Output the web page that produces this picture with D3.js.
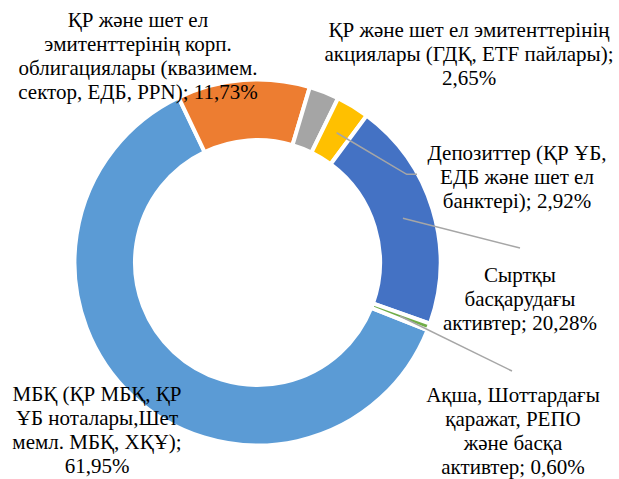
<!DOCTYPE html>
<html>
<head>
<meta charset="utf-8">
<script src="https://cdn.jsdelivr.net/npm/d3@7"></script>
<style>
  body { margin: 0; background: #fff; }
  svg { display: block; }
</style>
</head>
<body>
<svg></svg>
<script>
var width = 619;
var height = 479;

// data, in the order Excel draws it (clockwise)
var categories = [
  "МБҚ (ҚР МБҚ, ҚР ҰБ ноталары,Шет мемл. МБҚ, ХҚҰ)",
  "ҚР және шет ел эмитенттерінің корп. облигациялары (квазимем. сектор, ЕДБ, PPN)",
  "ҚР және шет ел эмитенттерінің акциялары (ГДҚ, ETF пайлары)",
  "Депозиттер (ҚР ҰБ, ЕДБ және шет ел банктері)",
  "Сыртқы басқарудағы активтер",
  "Ақша, Шоттардағы қаражат, РЕПО және басқа активтер"
];
var values = [61.95, 11.73, 2.65, 2.92, 20.28, 0.60];
var colors = ["#5B9BD5", "#ED7D31", "#A5A5A5", "#FFC000", "#4472C4", "#70AD47"];

// how each label wraps, {v} = value
var labelLines = [
  ["МБҚ (ҚР МБҚ, ҚР", "ҰБ ноталары,Шет", "мемл. МБҚ, ХҚҰ);", "{v}"],
  ["ҚР және шет ел", "эмитенттерінің корп.", "облигациялары (квазимем.", "сектор, ЕДБ, PPN); {v}"],
  ["ҚР және шет ел эмитенттерінің", "акциялары (ГДҚ, ETF пайлары);", "{v}"],
  ["Депозиттер (ҚР ҰБ,", "ЕДБ және шет ел", "банктері); {v}"],
  ["Сыртқы", "басқарудағы", "активтер; {v}"],
  ["Ақша, Шоттардағы", "қаражат, РЕПО", "және басқа", "активтер; {v}"]
];

// layout
var cx = 257.5, cy = 262.5;
var outerR = 183, innerR = 122.5;
var startDeg = 111.7;
var lineH = 24;
// label centre x and first baseline, plus leader end points (null = no leader)
var labelPos = [
  { x: 97,  y: 401, leader: null },
  { x: 138, y: 27,  leader: null },
  { x: 469, y: 37,  leader: null },
  { x: 517, y: 160, leader: [[406.7, 174.3], [417, 174.3]] },
  { x: 520, y: 282, leader: [[520, 248]] },
  { x: 513, y: 402, leader: [[512, 371]] }
];

var fmt = d3.format(".2f");
function pct(v) { return fmt(v).replace(".", ",") + "%"; }

var svg = d3.select("svg")
  .attr("width", width)
  .attr("height", height);

var pie = d3.pie()
  .sort(null)
  .value(d => d)
  .startAngle(startDeg * Math.PI / 180)
  .endAngle(startDeg * Math.PI / 180 + 2 * Math.PI);

var arcs = pie(values);

var arc = d3.arc()
  .innerRadius(innerR)
  .outerRadius(outerR);

var g = svg.append("g").attr("transform", "translate(" + cx + "," + cy + ")");

g.selectAll("path")
  .data(arcs)
  .enter()
  .append("path")
    .attr("d", arc)
    .attr("fill", (d, i) => colors[i])
    .attr("stroke", "#fff")
    .attr("stroke-width", 4)
    .attr("stroke-linejoin", "miter");

// leader lines start in the middle of the ring
var midArc = d3.arc().innerRadius(152).outerRadius(152);
var line = d3.line();

svg.selectAll("path.leader")
  .data(arcs.filter((d, i) => labelPos[i].leader))
  .enter()
  .append("path")
    .attr("class", "leader")
    .attr("fill", "none")
    .attr("stroke", "#A6A6A6")
    .attr("stroke-width", 1.5)
    .attr("d", d => {
      var c = midArc.centroid(d);
      var pts = [[c[0] + cx, c[1] + cy]].concat(labelPos[d.index].leader);
      return line(pts);
    });

// one text element per label line
var rows = [];
arcs.forEach(d => {
  labelLines[d.index].forEach((s, j) => {
    rows.push({
      x: labelPos[d.index].x,
      y: labelPos[d.index].y + j * lineH,
      text: s.replace("{v}", pct(d.data))
    });
  });
});

svg.selectAll("text.lbl")
  .data(rows)
  .enter()
  .append("text")
    .attr("class", "lbl")
    .attr("text-anchor", "middle")
    .style("font-family", "Liberation Serif")
    .style("font-size", "21px")
    .style("fill", "#000")
    .attr("x", d => d.x)
    .attr("y", d => d.y)
    .text(d => d.text);
</script>
</body>
</html>
